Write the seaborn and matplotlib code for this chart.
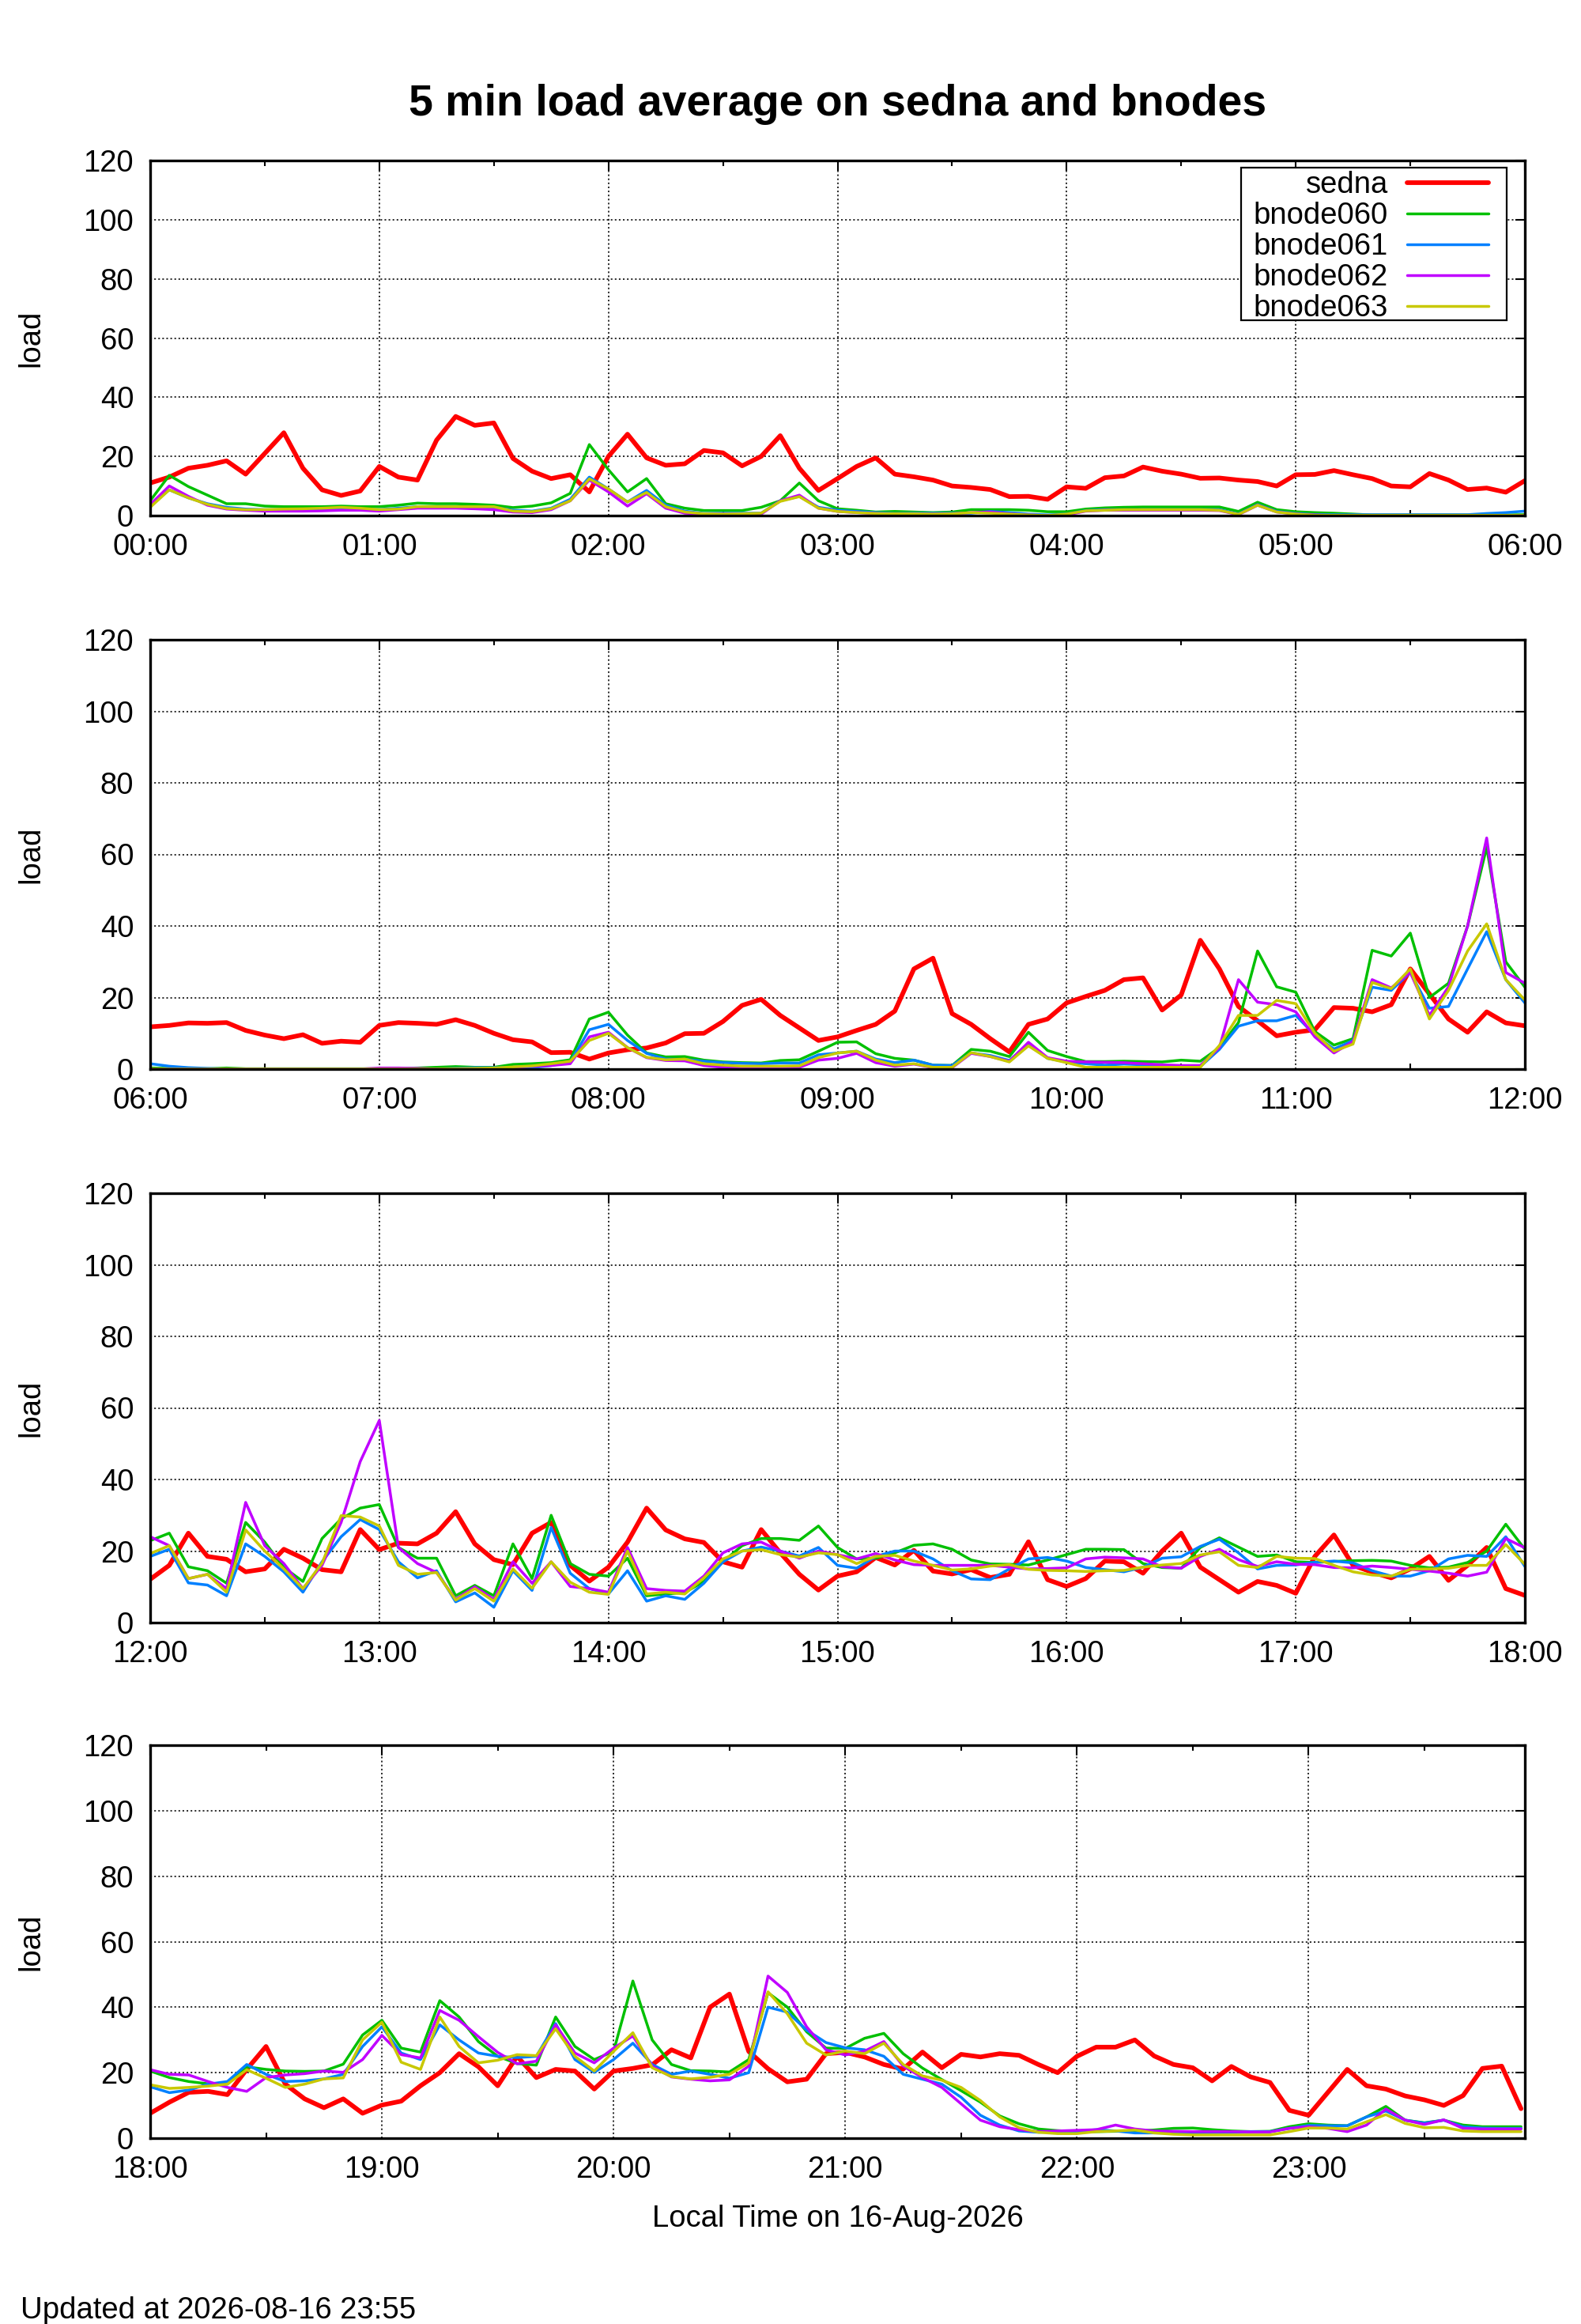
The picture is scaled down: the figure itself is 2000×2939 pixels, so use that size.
import numpy as np
import pandas as pd
import matplotlib
matplotlib.use("Agg")
import matplotlib.pyplot as plt
from matplotlib.ticker import MultipleLocator, FuncFormatter, NullLocator
from matplotlib.patches import Rectangle
import seaborn as sns

# ---------------- data (5-minute samples, 00:00 .. 23:55) ----------------
HOSTS = ["sedna", "bnode060", "bnode061", "bnode062", "bnode063"]
SAMPLE_STEP_MIN = 5

sedna = [
    # 00:00 - 05:55
    11, 13, 16, 17, 18.5, 14, 21, 28, 16, 8.7, 6.8, 8.3,
    16.6, 13, 12, 25.5, 33.5, 30.5, 31.3, 19.3, 15, 12.5, 13.8, 8,
    20, 27.5, 19.5, 17, 17.5, 22, 21.2, 16.8, 20, 27, 16, 8.5,
    12.5, 16.6, 19.5, 14, 13.1, 12, 10, 9.5, 8.8, 6.4, 6.5, 5.5,
    9.7, 9.2, 12.8, 13.4, 16.4, 15, 14, 12.6, 12.7, 12, 11.5, 10,
    13.8, 13.9, 15.2, 13.8, 12.5, 10, 9.7, 14.2, 12, 8.8, 9.3, 7.9,
    # 06:00 - 11:55
    11.8, 12.2, 12.9, 12.8, 13, 10.8, 9.5, 8.5, 9.6, 7.2, 7.8, 7.5,
    12.2, 13, 12.8, 12.5, 13.8, 12.2, 10, 8.2, 7.6, 4.6, 4.7, 2.8,
    4.5, 5.4, 5.9, 7.3, 9.9, 10, 13.3, 17.8, 19.5, 15, 11.5, 8,
    9, 10.8, 12.5, 16.2, 28, 31, 15.5, 12.5, 8.5, 4.8, 12.5, 14,
    18.5, 20.3, 22, 25, 25.5, 16.5, 20.7, 36, 28, 17.5, 13.5, 9.3,
    10.3, 11, 17.2, 17, 16, 18, 28, 21, 14, 10.3, 16, 12.9,
    # 12:00 - 17:55
    12.1, 16, 25, 18.5, 17.7, 14.2, 15, 20.5, 18, 14.8, 14.2, 26,
    20.4, 22.2, 22, 25, 31, 22, 17.6, 16.2, 25, 28, 16, 11.6,
    15.5, 22.5, 32, 25.9, 23.4, 22.4, 17, 15.5, 26, 19.5, 13.5, 9.1,
    13, 14.2, 18.2, 16.1, 20.2, 14.4, 13.6, 14.8, 12.6, 13.5, 22.6, 12,
    10.1, 12.3, 17.2, 17, 13.8, 20, 25, 15.5, 12, 8.5, 11.5, 10.4,
    8.2, 18.5, 24.5, 16, 14.1, 12.5, 15, 18.5, 11.8, 16, 21, 9.5,
    # 18:00 - 23:55
    7.6, 11, 14, 14.3, 13.3, 21, 28, 16.5, 12, 9.3, 12, 7.6,
    10.1, 11.3, 16, 20, 25.8, 21.8, 16, 25, 18.5, 21, 20.5, 15,
    20.5, 21.3, 22.4, 27, 24.5, 40, 44, 26.5, 21.2, 17.2, 18, 25.8,
    26.2, 24.8, 22.5, 21.1, 26.3, 21.5, 25.6, 24.8, 25.8, 25.3, 22.5, 20,
    25, 27.8, 27.8, 30, 25.1, 22.5, 21.5, 17.5, 21.9, 18.7, 17, 8.5,
    7, 14, 21, 16, 15, 12.9, 11.7, 10, 13, 21.3, 22, 9,
]

bnode060 = [
    5, 13.6, 9.8, 6.9, 4, 4, 3.2, 3, 3, 3, 3.2, 3,
    3, 3.5, 4.2, 4, 4, 3.8, 3.5, 2.7, 3.2, 4.3, 7.5, 24,
    15.5, 8, 12.5, 4, 2.5, 1.7, 1.7, 1.7, 2.8, 5, 11, 5,
    2.3, 1.8, 1.2, 1.4, 1.2, 1, 1.2, 2, 2, 2, 1.8, 1.3,
    1.3, 2.2, 2.6, 2.8, 2.9, 2.9, 2.9, 2.9, 2.9, 1.4, 4.5, 2,
    1.3, 1, 0.8, 0.5, 0.2, 0.2, 0.2, 0.2, 0.2, 0.2, 0.2, 0.2,
    0.3, 0.2, 0.1, 0.1, 0.3, 0.1, 0.1, 0.1, 0.1, 0.1, 0.1, 0.1,
    0.1, 0.2, 0.3, 0.5, 0.7, 0.5, 0.5, 1.3, 1.5, 1.8, 2.6, 14,
    15.9, 9.5, 4.5, 3.4, 3.5, 2.5, 2, 1.8, 1.7, 2.4, 2.6, 5,
    7.5, 7.6, 4.3, 3, 2.5, 1.1, 1, 5.5, 5, 3.5, 10.3, 5.2,
    3.5, 2.1, 2.1, 2.2, 2.1, 2, 2.5, 2.2, 6, 13, 33, 23,
    21.5, 10.5, 6.7, 8.5, 33.2, 31.6, 38, 20, 24, 40, 62, 30,
    22.9, 25, 15.6, 14.5, 11, 28, 22.5, 15.4, 11.5, 23.5, 29, 32,
    33, 21, 18, 18, 7.5, 10.4, 7.5, 22, 12.3, 30, 16.5, 13.5,
    13, 18, 7.5, 8, 8.4, 11.5, 17, 21.5, 23.5, 23.5, 23, 27,
    21, 17.8, 18, 19.5, 21.6, 22, 20.5, 17.5, 16.4, 16.3, 16.1, 17.5,
    19, 20.5, 20.5, 20.4, 16.5, 15.4, 15.2, 21, 23.7, 21.1, 18.5, 18.9,
    17, 16.8, 17.1, 17.3, 17.4, 17.2, 16, 15.3, 15.5, 16.8, 20, 27.5,
    20.5, 18.5, 17.3, 16.6, 16.5, 21.8, 21, 20.5, 20.4, 20.5, 22.6, 31.5,
    36, 27.5, 26.3, 42, 37, 29.5, 25, 22.8, 22.3, 37, 28, 24,
    26.5, 48, 30, 22.5, 20.6, 20.5, 20.2, 24, 44.4, 40, 32.5, 27.5,
    27.4, 30.5, 32, 25.8, 21.4, 17.9, 14.5, 11, 6.8, 4.4, 2.8, 2.3,
    2, 2, 2.1, 2.2, 2.5, 3, 3.1, 2.6, 2.2, 2, 2.1, 3.5,
    4.4, 4, 3.8, 6.5, 9.7, 5.5, 4.7, 5.5, 4, 3.5, 3.5, 3.5,
]

bnode061 = [
    3.7, 8.7, 6, 4, 2.8, 2.2, 2, 2, 2, 2, 2, 2,
    2, 2.5, 3, 3, 3, 3, 2.8, 1.8, 1.5, 2.5, 5.5, 13,
    9, 4.6, 8.5, 3.5, 1.5, 0.7, 0.8, 0.8, 0.8, 5, 6.5, 2.8,
    1.8, 1.4, 1, 0.7, 0.8, 0.8, 0.8, 0.8, 1.4, 1, 0.5, 0.2,
    0.5, 1.7, 2, 2, 2, 2, 2, 2, 2, 0.5, 3.7, 1.4,
    0.7, 0.3, 0.3, 0.3, 0.3, 0.3, 0.3, 0.3, 0.3, 0.3, 0.7, 1,
    1.5, 0.8, 0.4, 0.2, 0, 0, 0, 0, 0, 0, 0, 0,
    0, 0, 0, 0, 0.2, 0.4, 0.4, 0.4, 0.4, 1, 2, 11,
    12.5, 8, 4.4, 2.8, 2.7, 2.2, 1.8, 1.6, 1.5, 1.7, 1.7, 4,
    4.5, 5, 2.8, 1.8, 2.5, 1.1, 1, 4.5, 3.8, 2.4, 7, 3,
    2, 1.5, 1.1, 1.4, 1.2, 1, 0.8, 0.7, 5.5, 12, 13.5, 13.5,
    15, 9.5, 5.6, 8, 22.9, 22, 27, 17, 17.5, 28, 38.4, 25,
    18.5, 20.5, 11.1, 10.5, 7.5, 22, 18.5, 14.2, 8.5, 17, 24, 28.8,
    26, 17, 12.5, 14.5, 5.8, 8.3, 4.3, 14.5, 9, 26.6, 13.8, 9.5,
    8, 14.5, 6, 7.5, 6.5, 11, 17, 20, 21.1, 20, 18.6, 21,
    16, 15.2, 18.5, 20, 20, 17.8, 14.5, 12.2, 12, 15, 17.8, 18.2,
    17.2, 15.4, 14.8, 14.2, 15.5, 18, 18.4, 21.3, 23.3, 19.5, 15, 16,
    16.1, 16.9, 17.2, 16.7, 14.5, 13, 13, 14.5, 17.8, 18.8, 18.5, 24,
    15.7, 13.9, 14.7, 16.5, 17.3, 22.5, 19.5, 17.3, 17.5, 18.1, 19.5, 28,
    34, 26, 24, 34.6, 30, 26, 25, 24.6, 25, 35, 24, 20.1,
    24, 29, 22.5, 19.5, 20.5, 19.5, 18.3, 20, 40, 38.5, 33, 29.2,
    27.6, 27, 25, 19.5, 18, 16.5, 12.5, 7, 4, 2.2, 1.8, 2,
    2, 2.6, 2.2, 1.6, 1.6, 1.6, 1.6, 1.7, 1.8, 2, 2, 3,
    3.9, 3.8, 3.8, 6.5, 8.3, 5.5, 4.6, 5.5, 3.5, 3.1, 3, 3,
]

bnode062 = [
    3.7, 10, 6.5, 3.5, 2.2, 1.8, 1.5, 1.5, 1.5, 1.6, 1.8, 1.8,
    1.5, 2, 2.5, 2.5, 2.5, 2.3, 2, 1.2, 1, 2, 5, 12,
    8, 3.2, 7.4, 2.5, 0.8, 0.5, 0.5, 0.5, 0.5, 5, 6.9, 2.5,
    1.4, 1, 0.7, 0.5, 0.5, 0.5, 0.6, 1, 1.2, 0.6, 0.2, 0,
    0.2, 1.5, 1.8, 1.8, 1.8, 1.8, 1.8, 1.8, 1.7, 0.3, 3.5, 1.2,
    0.5, 0.2, 0, 0, 0, 0, 0, 0, 0, 0, 0, 0,
    0, 0, 0, 0, 0, 0, 0, 0, 0, 0, 0, 0,
    0.3, 0.3, 0.2, 0, 0, 0, 0, 0.5, 0.8, 1, 1.5, 9,
    10.3, 6, 3.2, 2.4, 2.3, 1, 0.5, 0.5, 0.5, 0.5, 0.5, 2.5,
    3, 4.4, 1.8, 0.8, 1.4, 0.4, 0.4, 4.4, 3.5, 2.2, 7.5, 3.2,
    2.2, 2, 1.9, 1.8, 1.5, 1.2, 1, 1, 6, 25, 18.7, 18,
    16, 9, 4.5, 7.7, 25, 22.7, 27, 15, 23, 40, 64.6, 27,
    24, 21.5, 12.3, 13.5, 9.5, 33.6, 21.5, 16.5, 9.5, 16, 28, 45,
    56.5, 21, 16.5, 14, 6.5, 10, 6.5, 17, 11, 17, 10.1, 9.5,
    8.5, 21, 9.5, 9, 8.8, 13, 19.5, 22, 22.5, 20, 18, 20,
    19, 17.8, 19.3, 17.5, 16.2, 16, 16, 16, 16, 15.5, 15, 15.1,
    15.3, 17.8, 18.3, 18.1, 17.8, 15.6, 15.2, 18.5, 20.5, 17.6, 15.7, 17,
    16.3, 16.2, 15.4, 15.3, 15.8, 15.4, 14.9, 14.4, 13.8, 13, 14.1, 23.5,
    20.9, 19.5, 19.3, 17.3, 15.5, 14.3, 18.5, 19.3, 19.7, 20.5, 20.1, 24,
    31.4, 25.5, 24.5, 39, 36, 31, 26.2, 22.7, 23.5, 34.6, 26, 23,
    27.5, 31.2, 22, 18.7, 18, 17.5, 17.8, 22, 49.5, 44.5, 34, 27,
    25.4, 26.6, 29.5, 22, 18.5, 15.5, 10.5, 5.5, 3.5, 2.6, 2, 2.2,
    2.4, 2.6, 4, 2.8, 2.2, 2.1, 2, 2, 2, 1.9, 1.9, 3,
    3.5, 3, 2, 4, 8.9, 5.5, 4.2, 5.6, 3, 2.8, 2.8, 2.8,
]

bnode063 = [
    2.8, 8.7, 6, 3.8, 2.4, 2, 2, 2.2, 2.3, 2.5, 2.8, 2.5,
    2, 2.2, 3, 3, 3, 3, 3, 1.5, 1.3, 2.3, 5, 12.4,
    9, 4.6, 7.8, 3, 1.2, 0.6, 0.5, 0.6, 0.8, 4.8, 6.4, 2.5,
    1.4, 1, 0.7, 0.6, 0.6, 0.5, 0.6, 1, 0.8, 0.5, 0.2, 0,
    0.5, 1.6, 1.8, 2, 2, 2, 2, 2, 1.8, 0.4, 3.5, 1.2,
    0.5, 0.1, 0.1, 0.1, 0.1, 0.1, 0.1, 0.1, 0.1, 0.1, 0.1, 0.1,
    0, 0, 0, 0, 0, 0, 0, 0, 0, 0, 0, 0,
    0, 0, 0, 0, 0.1, 0.2, 0.3, 0.6, 0.9, 1.5, 2.2, 8,
    10, 6, 3.3, 2.6, 2.8, 1.5, 1.1, 0.8, 0.8, 0.8, 0.9, 3.2,
    4.5, 5, 2.5, 1.1, 1.5, 0.5, 0.5, 4.6, 3.5, 2, 6.5, 3,
    1.8, 0.5, 0.5, 0.5, 0.5, 0.5, 0.5, 0.5, 6.6, 15, 15, 19.2,
    18.3, 10, 5, 7, 24.2, 22.5, 28, 14, 22, 33, 40.6, 25,
    19.3, 21.5, 12.3, 13.5, 8.5, 25.9, 20, 15, 9.5, 16.6, 29.9, 29.5,
    27, 16, 13.5, 14, 6.3, 9.5, 6, 15, 9.6, 17, 11.3, 8.5,
    7.9, 20, 8, 8.5, 8, 12.5, 17.8, 20, 20.4, 19, 18.3, 19.5,
    19, 16.5, 18.5, 18.8, 17.2, 16, 14.7, 15, 15.8, 16.2, 14.9, 14.6,
    14.5, 14.3, 14.5, 14.6, 15.5, 16.1, 16.5, 18.9, 19.8, 16, 15.4, 18.5,
    18, 17.9, 16, 14.2, 13.3, 13, 14.9, 15, 15.2, 16, 16, 21.8,
    16.3, 15.2, 15.5, 15.9, 16.5, 20.9, 18.3, 15.5, 16.5, 18.1, 18.4, 30,
    35.4, 23.2, 21, 37, 28, 23, 23.8, 25.5, 25.2, 33.4, 25, 20.5,
    26.5, 32.2, 21.5, 18.8, 18.1, 18.6, 19.5, 23, 44.7, 38, 29, 25.4,
    26.6, 25.8, 29, 22.5, 19, 17.7, 15.5, 11.5, 6.5, 3.2, 1.8, 1.4,
    1.4, 2, 2.2, 2.5, 1.6, 1.2, 1, 1, 1, 1, 1, 2,
    3.1, 3.1, 2.8, 5, 7.2, 4.5, 3.2, 3.3, 2.2, 2, 2, 2,
]

PANEL_RANGES = [(0.0, 6.0), (6.0, 12.0), (12.0, 18.0), (18.0, 23.0 + 56 / 60)]
YTICKS = [0, 20, 40, 60, 80, 100, 120]

TITLE = "5 min load average on sedna and bnodes"
XLABEL = "Local Time on 16-Aug-2026"
FOOTER = "Updated at 2026-08-16 23:55"
YLABEL = "load"

# ---------------- styling ----------------
COLORS = {"sedna": "#ff0000", "bnode060": "#00c000", "bnode061": "#0080ff",
          "bnode062": "#c000ff", "bnode063": "#c8c800"}
LWS = {"sedna": 4.2, "bnode060": 2.5, "bnode061": 2.5, "bnode062": 2.5, "bnode063": 2.5}

sns.set_style("white")
plt.rcParams["font.family"] = ["Liberation Sans", "DejaVu Sans"]
for k in ["text.color", "axes.labelcolor", "xtick.color", "ytick.color", "axes.edgecolor"]:
    plt.rcParams[k] = "black"

FS = 27.5
W, H = 2000, 2939

series = {"sedna": sedna, "bnode060": bnode060, "bnode061": bnode061,
          "bnode062": bnode062, "bnode063": bnode063}
n = len(sedna)
for k, v in series.items():
    assert len(v) == n, (k, len(v))
minutes = np.arange(n) * SAMPLE_STEP_MIN
df = pd.DataFrame({"minute": minutes, **series})
long = df.melt(id_vars="minute", var_name="host", value_name="load")
long["hour"] = long["minute"] / 60.0

fig = plt.figure(figsize=(W / 100, H / 100), dpi=100)

# axes boxes in pixels: (left, top, right, bottom)
BOXES = [(190, 203, 1929, 652), (190, 809, 1929, 1352),
         (190, 1509, 1929, 2052), (190, 2207, 1929, 2704)]
LEGEND_BOX = (1570, 212, 1906, 405)   # key frame, pixels
LEGEND_ANCHOR = (1883, 216)           # right end of key lines / top of first row

hour_fmt = FuncFormatter(lambda v, p: f"{int(round(v)) % 24:02d}:00")

for i, ((h0, h1), (l, t, r, b)) in enumerate(zip(PANEL_RANGES, BOXES)):
    ax = fig.add_axes([l / W, 1 - b / H, (r - l) / W, (b - t) / H])
    sub = long[(long["hour"] >= h0 - 1e-9) & (long["hour"] <= h1 + 1e-9)]
    handles = []
    for host in HOSTS:
        d = sub[sub["host"] == host]
        sns.lineplot(data=d, x="hour", y="load", color=COLORS[host],
                     linewidth=LWS[host], estimator=None, legend=False, ax=ax,
                     label=host)
        handles.append(ax.lines[-1])
    ax.set_xlim(h0, h1)
    ax.set_ylim(0, 120)
    ax.set_xlabel("")
    ax.set_ylabel("")
    ax.xaxis.set_major_locator(MultipleLocator(1))
    ax.xaxis.set_minor_locator(MultipleLocator(0.5))
    ax.xaxis.set_major_formatter(hour_fmt)
    ax.set_yticks(YTICKS)
    ax.yaxis.set_minor_locator(NullLocator())
    ax.tick_params(which="major", direction="in", length=9, width=1.5,
                   top=True, right=True, labelsize=FS)
    ax.tick_params(which="minor", direction="in", length=5, width=1.5,
                   top=True, bottom=True)
    ax.tick_params(axis="x", which="major", pad=16)
    ax.tick_params(axis="y", which="major", pad=15)
    ax.grid(True, which="major", color="black", linestyle=(0, (1.3, 1.9)), linewidth=1.15)
    ax.set_axisbelow(True)
    for s in ax.spines.values():
        s.set_linewidth(2.4)
        s.set_color("black")
    fig.text(39 / W, 1 - ((t + b) / 2) / H, YLABEL, rotation=90, ha="center",
             va="center", fontsize=FS)
    if i == 0:
        bl, bt, br, bb = LEGEND_BOX
        ax.add_patch(Rectangle(((bl - l) / (r - l), (b - bb) / (b - t)),
                               (br - bl) / (r - l), (bb - bt) / (b - t),
                               transform=ax.transAxes, facecolor="white",
                               edgecolor="black", linewidth=1.6, zorder=4.5))
        leg = ax.legend(handles=handles, labels=HOSTS, loc="upper right",
                        bbox_to_anchor=((LEGEND_ANCHOR[0] - l) / (r - l),
                                        (b - LEGEND_ANCHOR[1]) / (b - t)),
                        borderaxespad=0, markerfirst=False, frameon=False,
                        fontsize=FS, handlelength=2.7, handletextpad=0.63,
                        labelspacing=0.08, borderpad=0.0)
        leg.set_zorder(5)
    else:
        if ax.get_legend() is not None:
            ax.get_legend().remove()

cx = (190 + 1929) / 2 / W
fig.text(cx, 1 - 146 / H, TITLE, ha="center", va="baseline", fontsize=40,
         fontweight="bold")
fig.text(cx, 1 - 2816 / H, XLABEL, ha="center", va="baseline", fontsize=FS)
fig.text(26 / W, 1 - 2932 / H, FOOTER, ha="left", va="baseline", fontsize=FS)

fig.savefig("out.png", dpi=100)
